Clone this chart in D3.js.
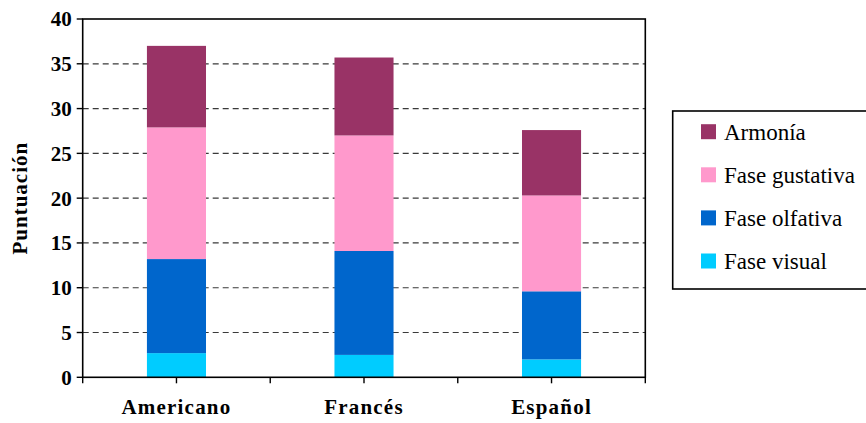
<!DOCTYPE html>
<html>
<head>
<meta charset="utf-8">
<script src="https://cdn.jsdelivr.net/npm/d3@7"></script>
</head>
<body style="margin:0">
<svg id="chart" width="866" height="423"></svg>
<script>
const categories = ["Americano", "Francés", "Español"];
const seriesNames = ["Fase visual", "Fase olfativa", "Fase gustativa", "Armonía"];
const faseVisual = [2.7, 2.5, 2.0];
const faseOlfativa = [10.5, 11.6, 7.6];
const faseGustativa = [14.7, 12.9, 10.7];
const armonia = [9.1, 8.7, 7.3];
const seriesColors = ["#00CCFF", "#0066CC", "#FF99CC", "#993366"];
const yTicks = [0, 5, 10, 15, 20, 25, 30, 35, 40];
const yTitle = "Puntuación";

const chartSvg = d3.select("#chart");
const pL = 82.7, pR = 645.3, pT = 19, pB = 377.3;

const rows = categories.map((c, i) => ({
  cat: c,
  "Fase visual": faseVisual[i],
  "Fase olfativa": faseOlfativa[i],
  "Fase gustativa": faseGustativa[i],
  "Armonía": armonia[i]
}));

const xScale = d3.scaleBand().domain(categories).range([pL, pR])
  .paddingInner(0.685).paddingOuter(0.3425);
const yScale = d3.scaleLinear().domain([0, 40]).range([pB, pT]);
const color = d3.scaleOrdinal().domain(seriesNames).range(seriesColors);

function serifText(sel, size, bold) {
  sel.style("font-family", "serif").attr("font-size", size);
  if (bold) sel.attr("font-weight", "bold");
  return sel;
}

// gridlines
chartSvg.append("g").selectAll("line").data(yTicks.filter(t => t > 0 && t < 40)).join("line")
  .attr("x1", pL).attr("x2", pR)
  .attr("y1", d => yScale(d)).attr("y2", d => yScale(d))
  .attr("stroke", "#3a3a3a").attr("stroke-width", 1.2)
  .attr("stroke-dasharray", "6,4");

// bars
const stacked = d3.stack().keys(seriesNames)(rows);
chartSvg.append("g").selectAll("g").data(stacked).join("g")
  .attr("fill", d => color(d.key))
  .selectAll("rect").data(d => d).join("rect")
  .attr("x", d => xScale(d.data.cat))
  .attr("width", xScale.bandwidth())
  .attr("y", d => yScale(d[1]))
  .attr("height", d => yScale(d[0]) - yScale(d[1]));

// plot border
chartSvg.append("rect")
  .attr("x", pL).attr("y", pT)
  .attr("width", pR - pL).attr("height", pB - pT)
  .attr("fill", "none").attr("stroke", "#000").attr("stroke-width", 1.6);

// y ticks
const yAxisG = chartSvg.append("g");
yAxisG.selectAll("line").data(yTicks).join("line")
  .attr("x1", pL - 6).attr("x2", pL)
  .attr("y1", d => yScale(d)).attr("y2", d => yScale(d))
  .attr("stroke", "#000").attr("stroke-width", 1.4);
yAxisG.selectAll("text").data(yTicks).join("text")
  .attr("x", pL - 11).attr("y", d => yScale(d))
  .attr("dy", "0.35em")
  .attr("text-anchor", "end")
  .call(serifText, 21, true)
  .text(d => d);

// x ticks at band boundaries and centers
const step = xScale.step();
const xTickPos = [];
categories.forEach(c => {
  const c0 = xScale(c) + xScale.bandwidth() / 2;
  xTickPos.push(c0 - step / 2, c0);
});
xTickPos.push(xScale(categories[categories.length - 1]) + xScale.bandwidth() / 2 + step / 2);
chartSvg.append("g").selectAll("line").data(xTickPos).join("line")
  .attr("x1", d => d).attr("x2", d => d)
  .attr("y1", pB).attr("y2", pB + 6)
  .attr("stroke", "#000").attr("stroke-width", 1.4);

chartSvg.append("g").selectAll("text").data(categories).join("text")
  .attr("x", d => xScale(d) + xScale.bandwidth() / 2)
  .attr("y", 414)
  .attr("text-anchor", "middle")
  .attr("letter-spacing", 1.2)
  .call(serifText, 21, true)
  .text(d => d);

// y title
chartSvg.append("text")
  .attr("transform", `translate(27, ${(pT + pB) / 2}) rotate(-90)`)
  .attr("text-anchor", "middle")
  .attr("letter-spacing", 1)
  .call(serifText, 21, true)
  .text(yTitle);

// legend
const legendItems = seriesNames.slice().reverse();
const lg = chartSvg.append("g");
lg.append("rect")
  .attr("x", 672.7).attr("y", 111)
  .attr("width", 200).attr("height", 178)
  .attr("fill", "#fff").attr("stroke", "#000").attr("stroke-width", 1.6);
const item = lg.selectAll("g").data(legendItems).join("g")
  .attr("transform", (d, i) => `translate(0, ${131.7 + i * 43.1})`);
item.append("rect")
  .attr("x", 701).attr("y", -7.5).attr("width", 15).attr("height", 15)
  .attr("fill", d => color(d));
item.append("text")
  .attr("x", 724).attr("y", 8)
  .call(serifText, 23, false)
  .text(d => d);
</script>
</body>
</html>
